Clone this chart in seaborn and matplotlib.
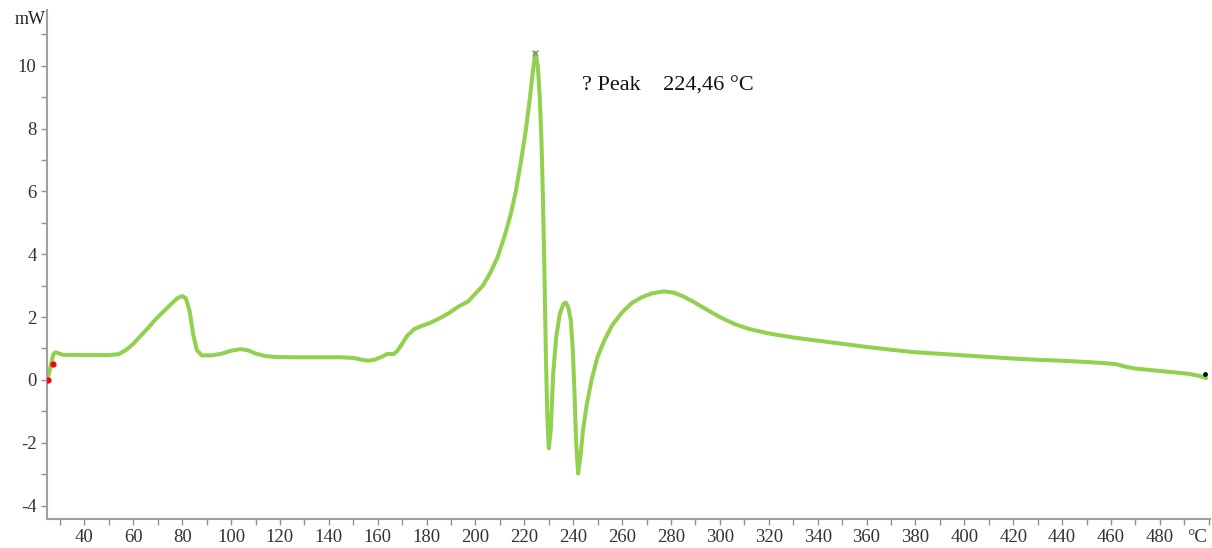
import matplotlib
matplotlib.use('Agg')
import matplotlib.pyplot as plt
from matplotlib.ticker import MultipleLocator
import seaborn as sns
import pandas as pd

# DSC curve
temp = [24.7, 25.5, 26.5, 27.3, 28.3, 31, 40, 50, 54, 57, 60, 63, 66, 69, 72, 75, 78, 80,
        81.5, 83, 84.5, 86, 88, 92, 96, 100, 104, 107, 110, 114, 118, 125, 135, 145, 150,
        153, 156, 159, 162, 164, 166.5, 168, 170, 172, 175, 178, 181, 185, 189, 193, 197,
        200, 203, 206, 209, 212, 214.5, 216.5, 218.5, 220.5, 222, 223.3, 224.46, 225.5,
        226.3, 227, 227.6, 228.2, 228.8, 229.4, 230, 230.8, 231.8, 233, 234.5, 236, 237,
        238, 239, 239.8, 240.5, 241.2, 242, 243, 244, 245.5, 247.5, 250, 253, 256, 260,
        264, 268, 272, 277, 281, 285, 290, 295, 300, 306, 312, 320, 330, 340, 350, 360,
        370, 380, 390, 400, 410, 420, 430, 440, 450, 458, 462, 466, 470, 478, 486, 492,
        496, 499]
heat_flow = [0.0, 0.2, 0.55, 0.82, 0.88, 0.80, 0.79, 0.79, 0.82, 0.95, 1.15, 1.40, 1.65,
             1.92, 2.15, 2.38, 2.60, 2.67, 2.60, 2.20, 1.45, 0.95, 0.78, 0.78, 0.83, 0.93,
             0.98, 0.94, 0.84, 0.76, 0.73, 0.72, 0.72, 0.72, 0.70, 0.65, 0.61, 0.65, 0.75,
             0.83, 0.82, 0.92, 1.15, 1.40, 1.62, 1.72, 1.80, 1.95, 2.12, 2.33, 2.50, 2.75,
             3.00, 3.40, 3.90, 4.60, 5.30, 6.00, 6.90, 7.90, 8.80, 9.70, 10.42, 10.0, 9.0,
             7.6, 5.8, 3.5, 0.8, -1.2, -2.18, -1.6, 0.2, 1.35, 2.10, 2.42, 2.46, 2.30, 1.90,
             1.0, -0.4, -2.0, -2.98, -2.4, -1.6, -0.8, 0.0, 0.75, 1.30, 1.75, 2.15, 2.45,
             2.63, 2.75, 2.82, 2.78, 2.66, 2.45, 2.22, 2.00, 1.78, 1.62, 1.48, 1.35, 1.25,
             1.15, 1.05, 0.96, 0.88, 0.83, 0.78, 0.73, 0.68, 0.64, 0.61, 0.57, 0.53, 0.50,
             0.42, 0.36, 0.30, 0.24, 0.19, 0.13, 0.06]

peak_t = 224.46
peak_v = 10.42
peak_label = '? Peak    224,46 °C'
start_marks_t = [24.9, 27.2]
start_marks_v = [0.0, 0.5]
end_mark_t = [498.5]
end_mark_v = [0.19]

df = pd.DataFrame({'temp': temp, 'heat_flow': heat_flow})

sns.set_style('ticks')
plt.rcParams['font.family'] = ['Liberation Serif', 'DejaVu Serif']
plt.rcParams['axes.unicode_minus'] = False

fig = plt.figure(figsize=(12.12, 5.48), dpi=100)
ax = fig.add_axes([0.0388, 0.0529, 0.9595, 0.9289])

sns.lineplot(data=df, x='temp', y='heat_flow', ax=ax, color='#92d050', linewidth=2.9,
             sort=False, estimator=None)
ax.scatter([peak_t], [peak_v], marker='x', color='#888888', s=18, linewidths=1, zorder=5)
ax.scatter(start_marks_t, start_marks_v, marker='o', color='red', s=12, zorder=5)
ax.scatter(end_mark_t, end_mark_v, marker='o', color='black', s=6, zorder=5)

ax.set_xlim(24.7, 500.5)
ax.set_ylim(-4.43, 11.78)
ax.xaxis.set_minor_locator(MultipleLocator(10))
ax.yaxis.set_minor_locator(MultipleLocator(1))
ax.set_xticks(list(range(40, 481, 20)))
ax.set_yticks(list(range(-4, 11, 2)))
ax.tick_params(which='both', direction='out', length=4, width=1, color='#909090',
               labelsize=13.5, labelcolor='#333333')
ax.set_xlabel('')
ax.set_ylabel('')
sns.despine(ax=ax)
for side in ['left', 'bottom']:
    ax.spines[side].set_color('#a0a0a0')
    ax.spines[side].set_linewidth(1.5)

ax.text(243.7, 9.36, peak_label, fontsize=16, color='#111111', va='center', ha='left')
fig.text(30 / 1212, 1 - 20 / 548, 'mW', fontsize=13, color='#222222', ha='center', va='center')
fig.text(1197 / 1212, 1 - 537 / 548, '°C', fontsize=13.5, color='#333333', ha='center', va='center')

plt.savefig('out.png', dpi=100)
